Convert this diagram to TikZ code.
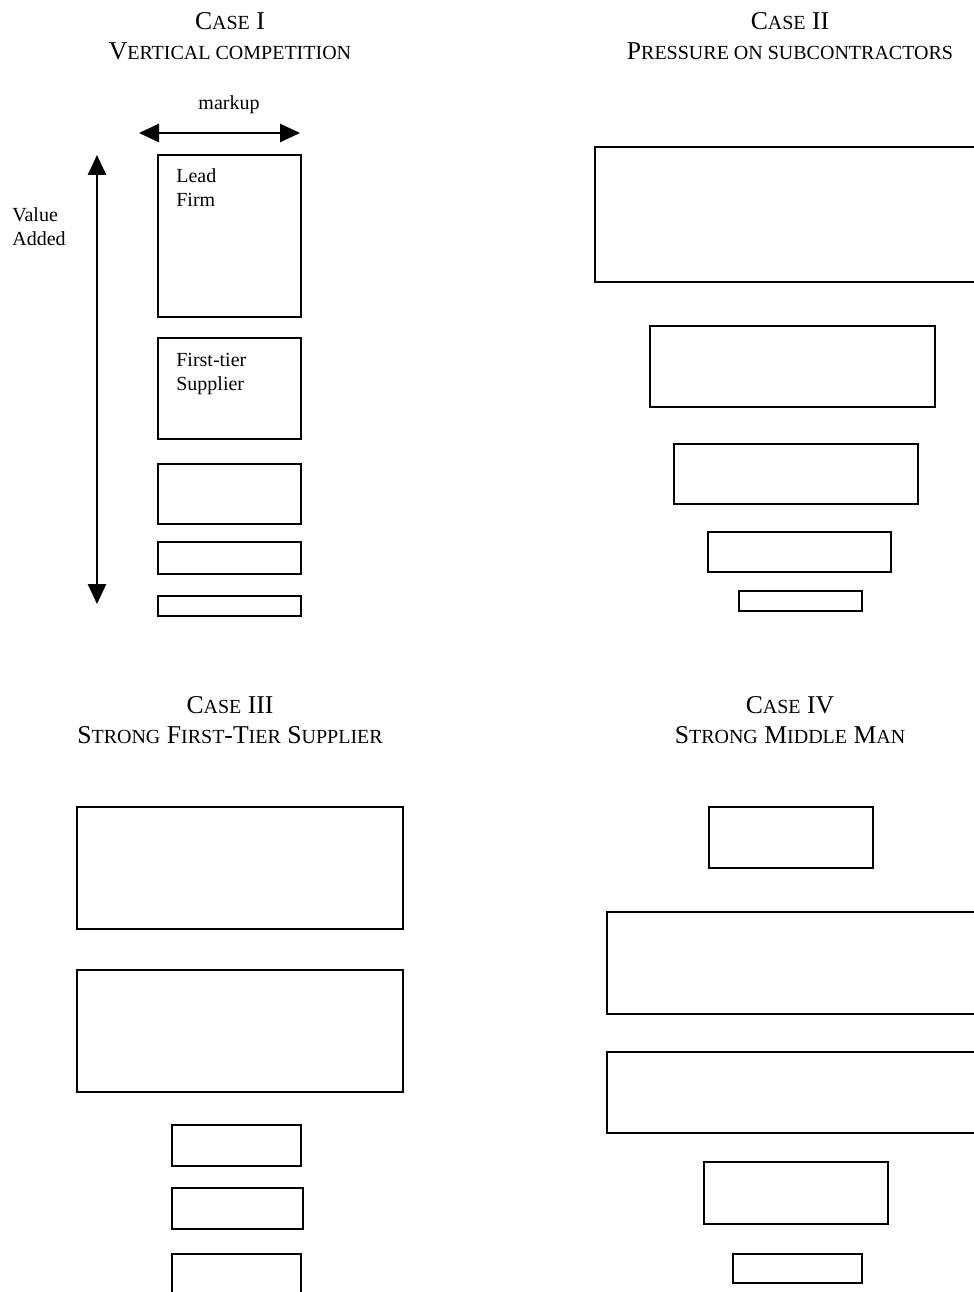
\documentclass[tikz,border=0pt]{standalone}
\usepackage{fontspec}
\setmainfont{Liberation Serif}
\usepackage{tikz}
\usetikzlibrary{
	arrows.meta,
	positioning
}
\newcommand{\smc}[1]{{\fontsize{12}{18}\selectfont #1}}

\begin{document}
\begin{tikzpicture}[>={Triangle[length=12pt,width=11pt]},x=0.6pt,y=-0.6pt,
		blk/.style={draw,line width=1pt,inner sep=0pt},
		ttl/.style={align=center,inner sep=0pt,anchor=north,font=\fontsize{15.4}{18}\selectfont},
		txt/.style={align=left,inner sep=0pt,anchor=north west,font=\fontsize{12}{14.4}\selectfont}]
		
		\useasboundingbox (0,0) rectangle (974,1292);
		
		%---------------- Case I ----------------%
		
		\node[ttl] (t1) at (230,12) {C\smc{ASE} I\\V\smc{ERTICAL COMPETITION}};
		
		\node[blk,minimum width=85.8pt,minimum height=97.2pt] (lead) at (229.5,236) {};
		\node[blk,minimum width=85.8pt,minimum height=60.6pt] (first) at (229.5,388.5) {};
		\node[blk,minimum width=85.8pt,minimum height=36pt] (c1c) at (229.5,494) {};
		\node[blk,minimum width=85.8pt,minimum height=19.2pt] (c1d) at (229.5,558) {};
		\node[blk,minimum width=85.8pt,minimum height=12pt] (c1e) at (229.5,606) {};
		
		\node[txt] (leadtxt) at (176,168) {Lead\\Firm};
		\node[txt] (firsttxt) at (176,353) {First-tier\\Supplier};
		
		\coordinate (mkL) at (139,133);
		\coordinate (mkR) at (300,133);
		\draw[<->,line width=1pt] (mkL)--(mkR);
		\node[txt,anchor=center] (markup) at (229,105) {markup};
		
		\coordinate (vaT) at (97,155);
		\coordinate (vaB) at (97,604);
		\draw[<->,line width=1pt] (vaT)--(vaB);
		\node[txt] (va) at (12,207) {Value\\Added};
		
		%---------------- Case II ----------------%
		
		\node[ttl] (t2) at (790,12) {C\smc{ASE} II\\P\smc{RESSURE ON SUBCONTRACTORS}};
		
		\node[blk,minimum width=231pt,minimum height=81pt] (c2a) at (787.5,214.5) {};
		\node[blk,minimum width=171pt,minimum height=48.6pt] (c2b) at (792.5,366.5) {};
		\node[blk,minimum width=146.4pt,minimum height=36pt] (c2c) at (796,474) {};
		\node[blk,minimum width=109.8pt,minimum height=24pt] (c2d) at (799.5,552) {};
		\node[blk,minimum width=73.8pt,minimum height=12pt] (c2e) at (800.5,601) {};
		
		%---------------- Case III ----------------%
		
		\node[ttl] (t3) at (230,696) {C\smc{ASE} III\\S\smc{TRONG} F\smc{IRST}-T\smc{IER} S\smc{UPPLIER}};
		
		\node[blk,minimum width=195.6pt,minimum height=73.2pt] (c3a) at (240,868) {};
		\node[blk,minimum width=195.6pt,minimum height=73.2pt] (c3b) at (240,1031) {};
		\node[blk,minimum width=77.4pt,minimum height=24.6pt] (c3c) at (236.5,1145.5) {};
		\node[blk,minimum width=78.6pt,minimum height=24.6pt] (c3d) at (237.5,1208.5) {};
		\node[blk,minimum width=77.4pt,minimum height=27.6pt] (c3e) at (236.5,1277) {};
		
		%---------------- Case IV ----------------%
		
		\node[ttl] (t4) at (790,696) {C\smc{ASE} IV\\S\smc{TRONG} M\smc{IDDLE} M\smc{AN}};
		
		\node[blk,minimum width=98.4pt,minimum height=36.6pt] (c4a) at (791,837.5) {};
		\node[blk,minimum width=223.8pt,minimum height=61.2pt] (c4b) at (793.5,963) {};
		\node[blk,minimum width=223.8pt,minimum height=48.6pt] (c4c) at (793.5,1092.5) {};
		\node[blk,minimum width=110.4pt,minimum height=37.2pt] (c4d) at (796,1193) {};
		\node[blk,minimum width=77.4pt,minimum height=17.4pt] (c4e) at (797.5,1268.5) {};
		
	\end{tikzpicture}
\end{document}
